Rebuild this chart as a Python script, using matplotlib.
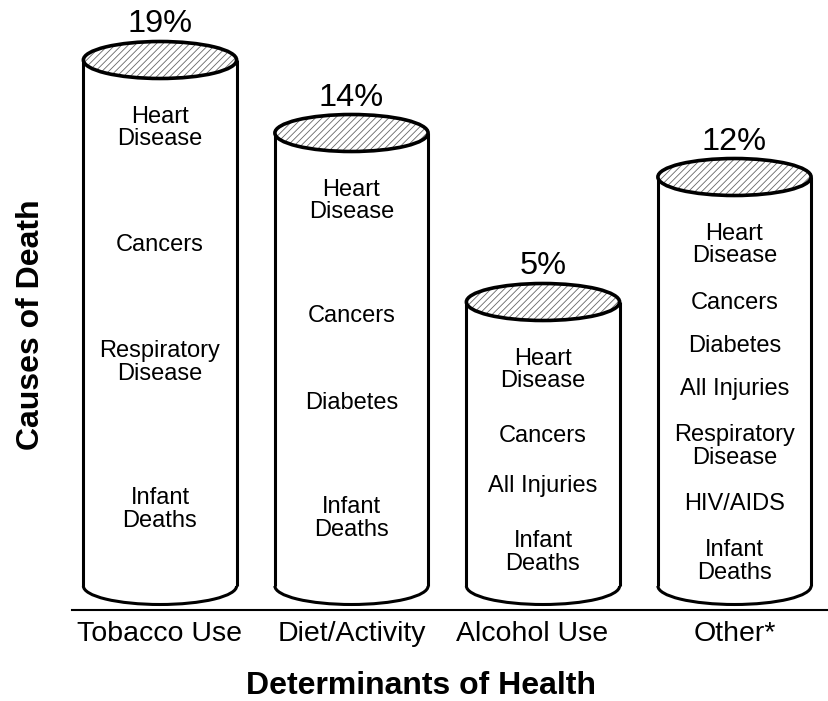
import matplotlib
matplotlib.use('Agg')
import matplotlib.pyplot as plt
from matplotlib.patches import Ellipse, Arc
from matplotlib.transforms import ScaledTranslation

plt.rcParams['font.family'] = ['Liberation Sans', 'DejaVu Sans']
plt.rcParams['hatch.linewidth'] = 0.6

# data
determinants = ['Tobacco Use', 'Diet/Activity', 'Alcohol Use', 'Other*']
percents = [19, 14, 5, 12]
# drawn cylinder heights (the picture does not scale them to the percents)
heights = [550, 477, 308, 433]
causes = [
    ['Heart\nDisease', 'Cancers', 'Respiratory\nDisease', 'Infant\nDeaths'],
    ['Heart\nDisease', 'Cancers', 'Diabetes', 'Infant\nDeaths'],
    ['Heart\nDisease', 'Cancers', 'All Injuries', 'Infant\nDeaths'],
    ['Heart\nDisease', 'Cancers', 'Diabetes', 'All Injuries',
     'Respiratory\nDisease', 'HIV/AIDS', 'Infant\nDeaths'],
]

cyl_w = 0.80
cap_h = 37
base_y = 24
lw = 2.2

fig = plt.figure(figsize=(8.29, 7.01), dpi=100)
ax = fig.add_axes([72 / 829, 91 / 701, 757 / 829, 610 / 701])
ax.set_xlim(-0.4595, 3.4935)
ax.set_ylim(0, 610)

for i, (pct, h, items) in enumerate(zip(percents, heights, causes)):
    # sides
    for side in (-1, 1):
        ax.plot([i + side * cyl_w / 2] * 2, [base_y, h], color='black', lw=lw,
                solid_capstyle='butt', zorder=2)
    # bottom arc
    ax.add_patch(Arc((i, base_y), cyl_w, cap_h, theta1=180, theta2=360,
                     color='black', lw=lw, zorder=2))
    # hatched top
    ax.add_patch(Ellipse((i, h), cyl_w, cap_h, facecolor='white',
                         edgecolor='#666666', hatch='/////', lw=0, zorder=3))
    ax.add_patch(Ellipse((i, h), cyl_w, cap_h, facecolor='none',
                         edgecolor='black', lw=2.6, zorder=4))
    ax.text(i, h + cap_h / 2 + 9, f'{pct}%', ha='center', va='baseline',
            fontsize=23.4)

    # labels inside, spread down the cylinder
    lines = [s.count('\n') + 1 for s in items]
    w = [lines[k] + lines[k + 1] + 1 for k in range(len(items) - 1)]
    needed = 14.4 * sum(w)
    avail = h - 68 - 52
    span = needed + 0.8 * max(0, avail - needed)
    unit = span / sum(w)
    y = h - 68
    for k, label in enumerate(items):
        ax.text(i, y, label, ha='center', va='center', fontsize=17,
                linespacing=1.05)
        if k < len(w):
            y -= w[k] * unit

ax.set_xticks(range(len(determinants)), determinants, fontsize=20.5)
ax.tick_params(axis='x', length=0, pad=8)
# the reference sets "Alcohol Use" a little left of its cylinder
lab = ax.get_xticklabels()[2]
lab.set_transform(lab.get_transform() + ScaledTranslation(-0.11, 0, fig.dpi_scale_trans))
ax.set_yticks([])
for s in ('top', 'right', 'left'):
    ax.spines[s].set_visible(False)
ax.spines['bottom'].set_linewidth(1.5)

fig.text(421.5 / 829, 1 - 686 / 701, 'Determinants of Health', ha='center',
         va='center', fontsize=23, fontweight='bold')
fig.text(31.5 / 829, 1 - 324.5 / 701, 'Causes of Death', ha='center',
         va='center', rotation=90, fontsize=23, fontweight='bold')

fig.savefig('out.png', dpi=100)
